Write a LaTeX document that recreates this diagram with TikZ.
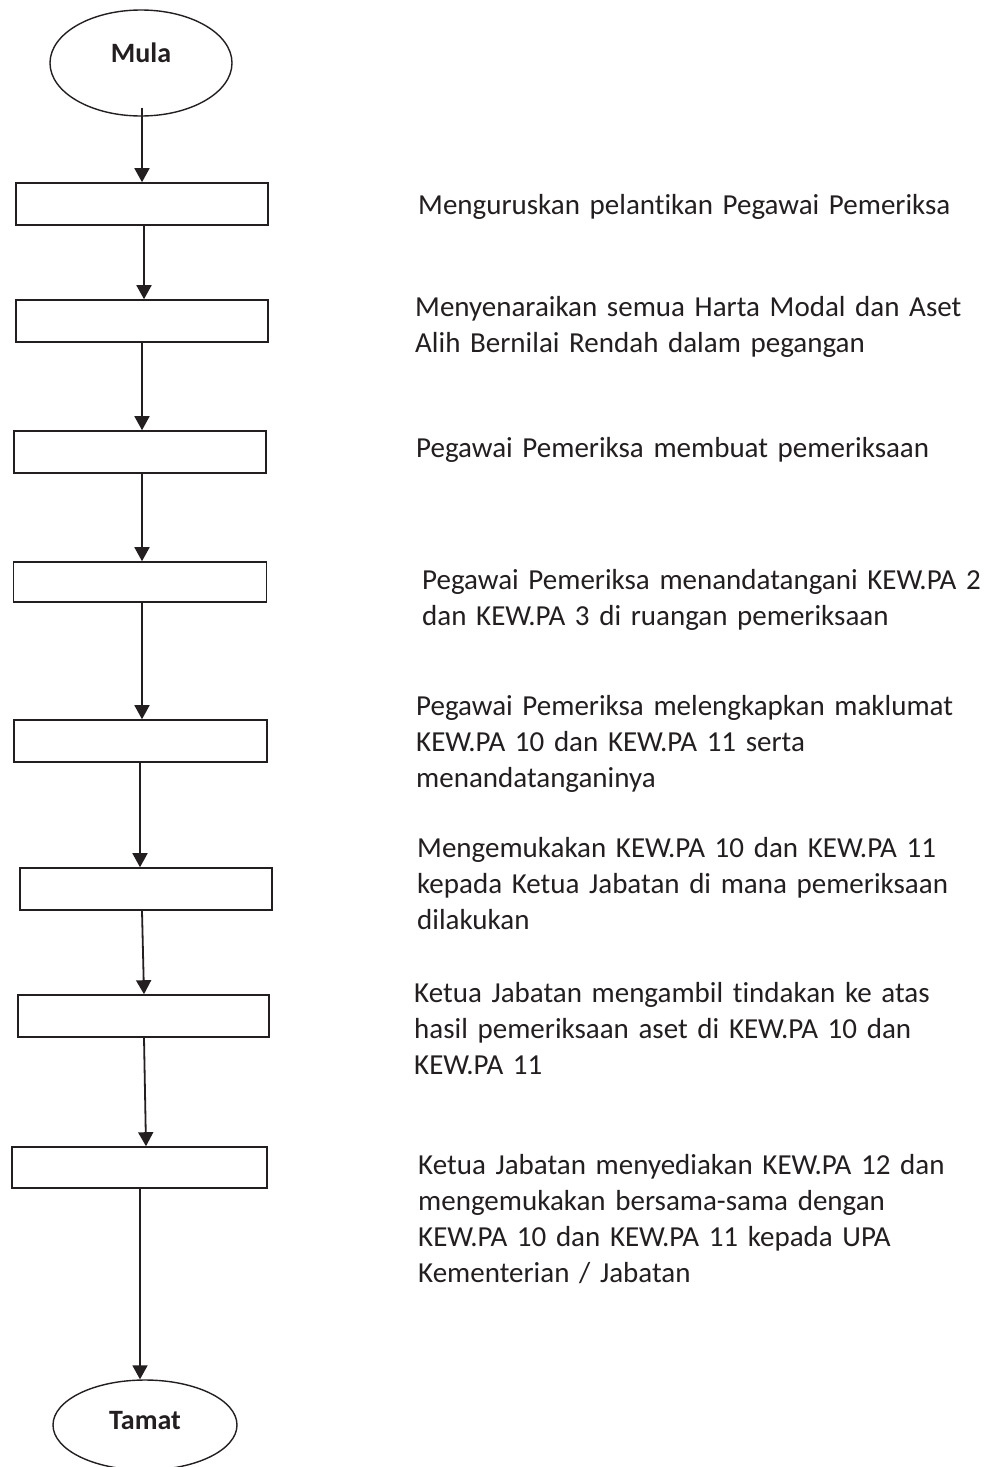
\documentclass[tikz,border=0pt]{standalone}
\usepackage{fontspec}
\setmainfont{Carlito}[Ligatures=NoCommon]
\usetikzlibrary{arrows.meta,shapes.geometric}
\definecolor{ink}{HTML}{231F20}
\tikzset{
  stepbox/.style={draw=ink,line width=1.6pt,rectangle,minimum width=252pt,minimum height=42pt,inner sep=0pt},
  termnode/.style={draw=ink,line width=1.4pt,ellipse,inner sep=0pt},
  flowarrow/.style={draw=ink,line width=1.8pt,-{Triangle[width=15pt,length=14pt]}},
  desc/.style={anchor=base west,align=left,text width=570pt,inner sep=0pt,text=ink,font=\fontsize{29}{36}\selectfont},
  termtext/.style={text=ink,font=\fontsize{28}{34}\selectfont\bfseries,inner sep=0pt}
}
\begin{document}
\begin{tikzpicture}[x=1pt,y=-1pt]
\useasboundingbox[fill=white] (0,0) rectangle (993,1467);
% terminals
\node[termnode,minimum width=182pt,minimum height=106pt] (m) at (141,63) {};
\node[termtext] (mt) at (141,53) {Mula};
\node[termnode,minimum width=184pt,minimum height=90pt] (t) at (145,1425) {};
\node[termtext] (tt) at (145,1421) {Tamat};
% boxes
\node[stepbox] (b1) at (142,204) {};
\node[stepbox] (b2) at (142,321) {};
\node[stepbox] (b3) at (140,452) {};
\node[stepbox,minimum width=253pt,minimum height=40pt] (b4) at (140,582) {};
\node[stepbox,minimum width=253pt] (b5) at (140.5,741) {};
\node[stepbox] (b6) at (146,889) {};
\node[stepbox,minimum width=251pt] (b7) at (143.5,1016) {};
\node[stepbox,minimum width=255pt,minimum height=41pt] (b8) at (139.5,1167.5) {};
% arrows
\draw[flowarrow] ([xshift=1pt,yshift=9pt]m.south) -- (b1.north);
\draw[flowarrow] ([xshift=2pt]b1.south) -- ([xshift=2pt]b2.north);
\draw[flowarrow] (b2.south) -- ([xshift=2pt]b3.north);
\draw[flowarrow] ([xshift=2pt]b3.south) -- ([xshift=2pt]b4.north);
\draw[flowarrow] ([xshift=2pt]b4.south) -- ([xshift=1.5pt]b5.north);
\draw[flowarrow] ([xshift=-0.5pt]b5.south) -- ([xshift=-6pt]b6.north);
\draw[flowarrow] ([xshift=-4pt]b6.south) -- ([xshift=0.5pt]b7.north);
\draw[flowarrow] ([xshift=0.5pt]b7.south) -- ([xshift=6.5pt]b8.north);
\draw[flowarrow] ([xshift=0.5pt]b8.south) -- ([xshift=-5pt]t.north);
% descriptions
\node[desc] (d1) at (418,214) {Menguruskan pelantikan Pegawai Pemeriksa};
\node[desc] (d2) at (415,316) {Menyenaraikan semua Harta Modal dan Aset\\Alih Bernilai Rendah dalam pegangan};
\node[desc] (d3) at (416,457) {Pegawai Pemeriksa membuat pemeriksaan};
\node[desc] (d4) at (422,589) {Pegawai Pemeriksa menandatangani KEW.PA 2\\dan KEW.PA 3 di ruangan pemeriksaan};
\node[desc] (d5) at (416,715) {Pegawai Pemeriksa melengkapkan maklumat\\KEW.PA 10 dan KEW.PA 11 serta\\menandatanganinya};
\node[desc] (d6) at (417,857) {Mengemukakan KEW.PA 10 dan KEW.PA 11\\kepada Ketua Jabatan di mana pemeriksaan\\dilakukan};
\node[desc] (d7) at (414,1002) {Ketua Jabatan mengambil tindakan ke atas\\hasil pemeriksaan aset di KEW.PA 10 dan\\KEW.PA 11};
\node[desc] (d8) at (418,1174) {Ketua Jabatan menyediakan KEW.PA 12 dan\\mengemukakan bersama-sama dengan\\KEW.PA 10 dan KEW.PA 11 kepada UPA\\Kementerian / Jabatan};
\end{tikzpicture}
\end{document}
